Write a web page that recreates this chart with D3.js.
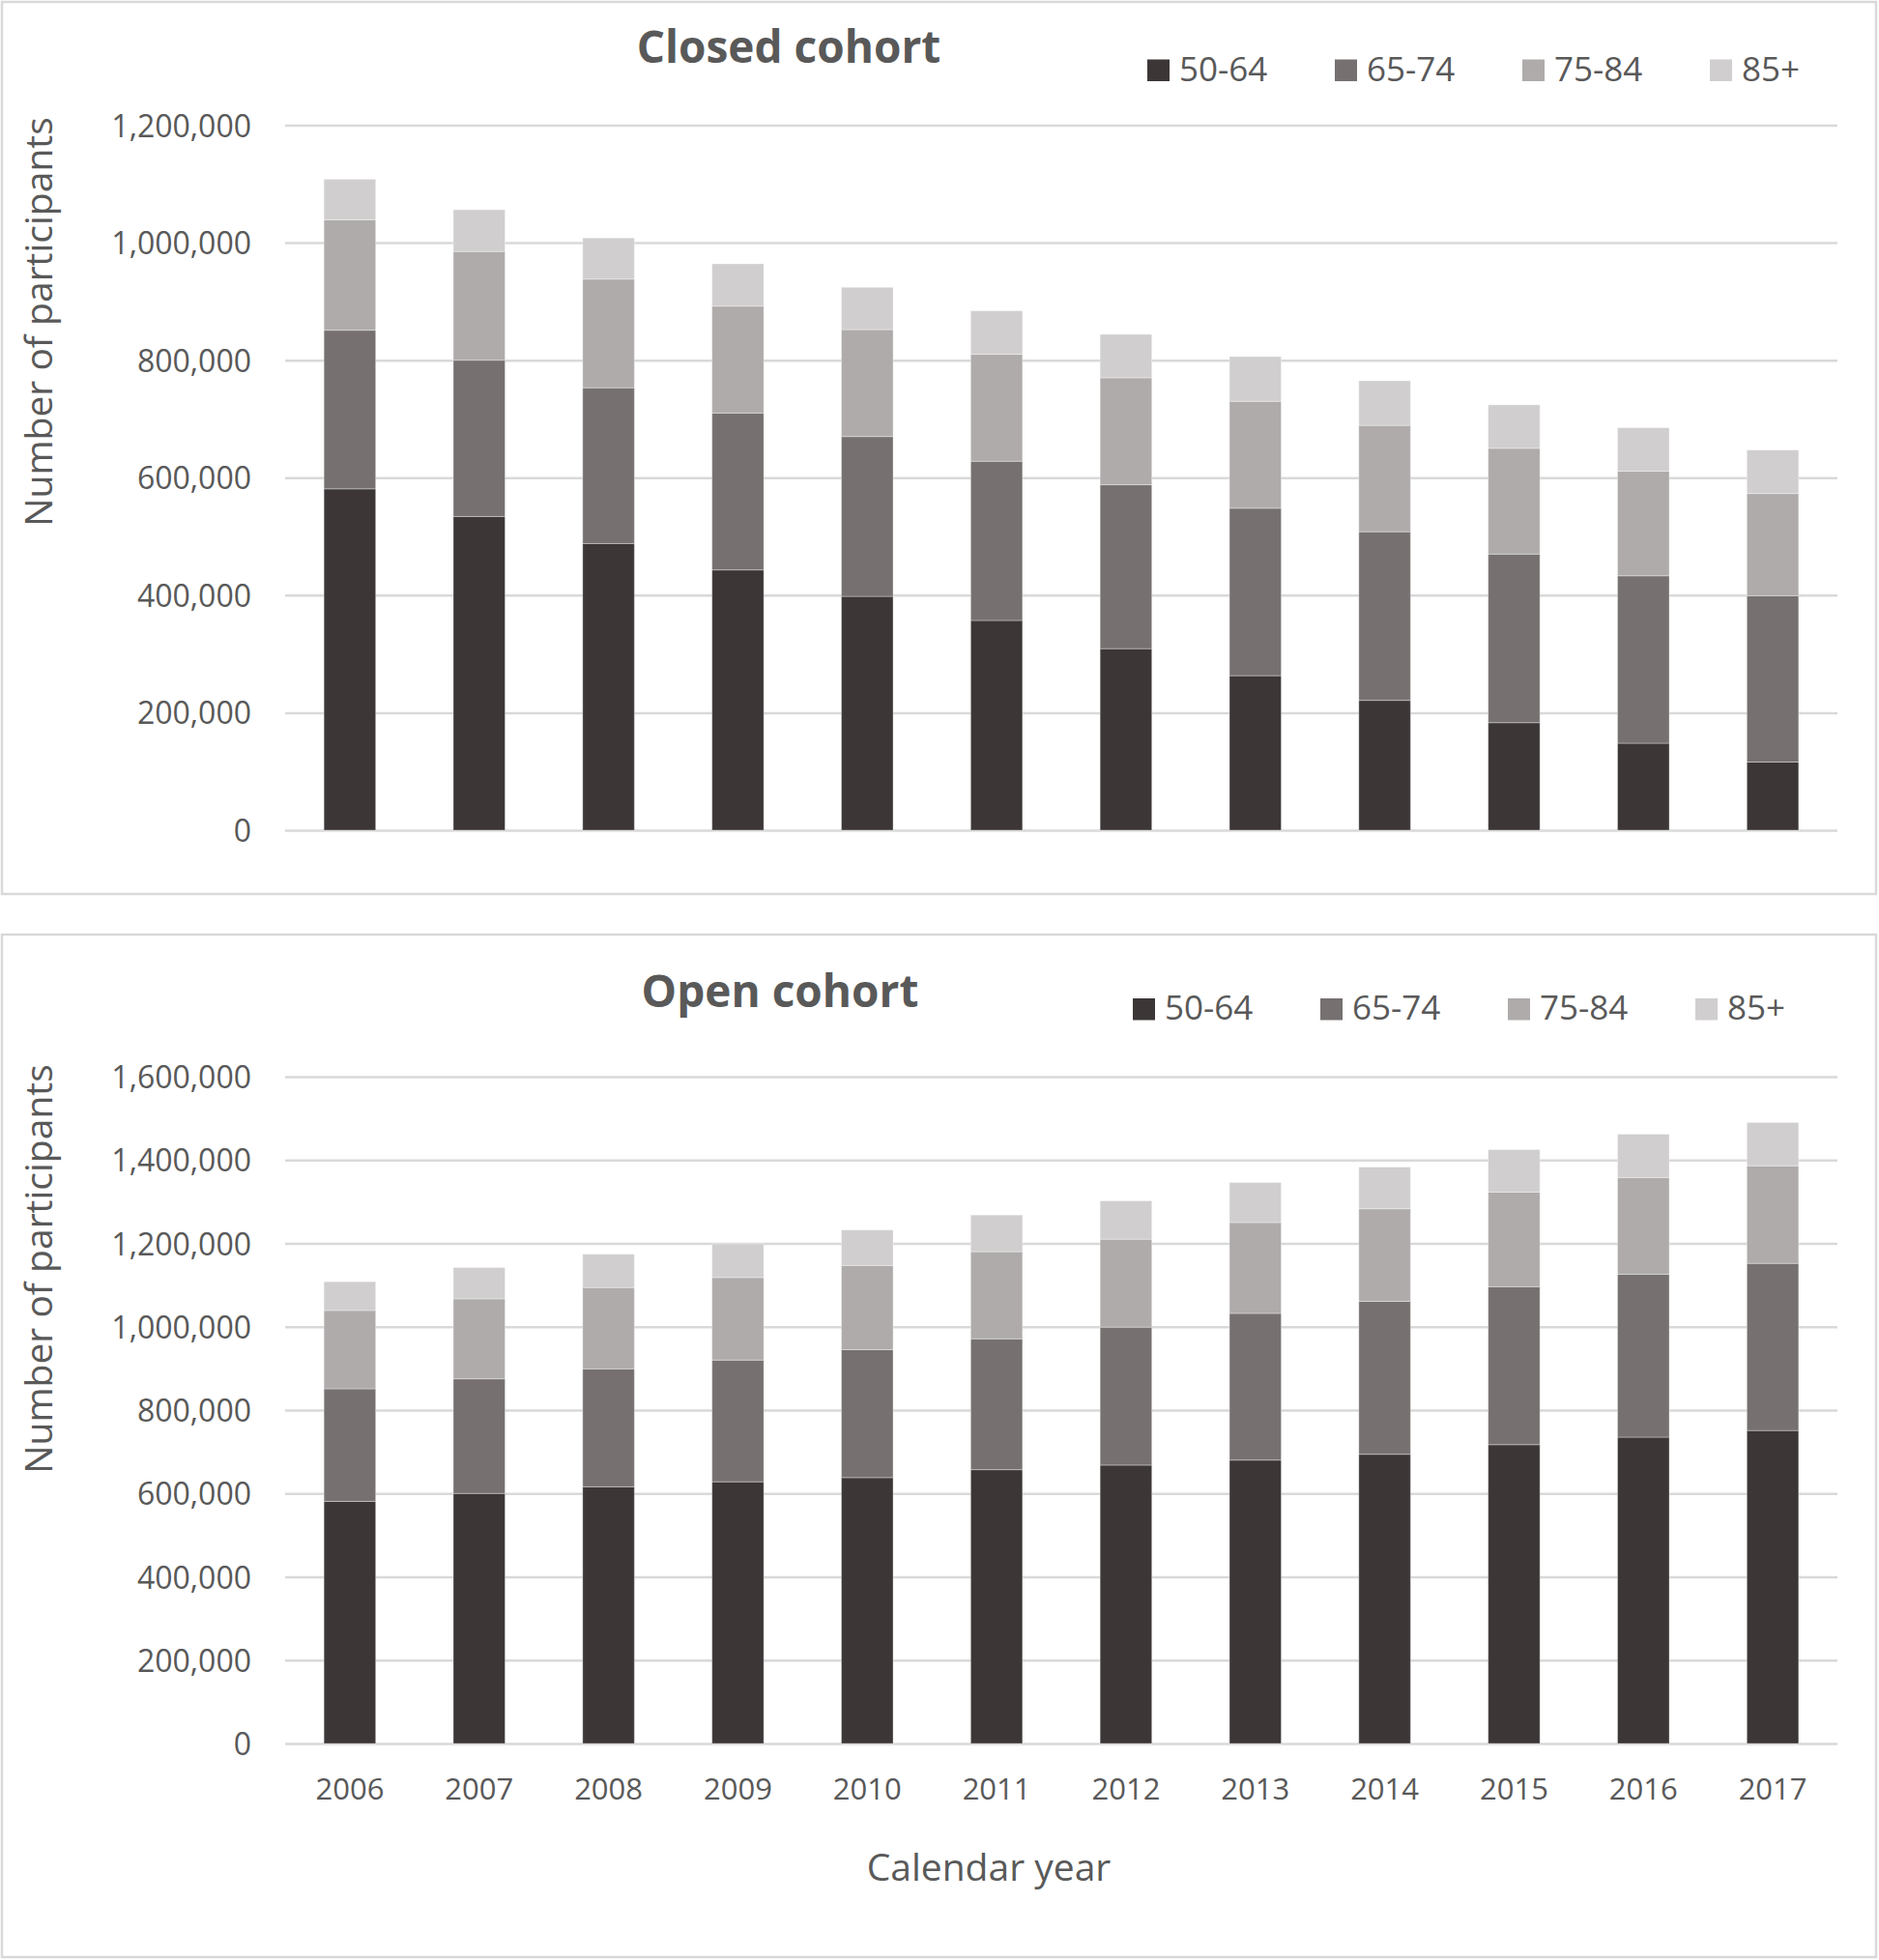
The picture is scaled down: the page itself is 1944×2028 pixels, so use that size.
<!DOCTYPE html>
<html>
<head>
<meta charset="utf-8">
<script src="https://cdn.jsdelivr.net/npm/d3@7"></script>
<style>
  html, body { margin: 0; padding: 0; background: #fff; }
  svg { display: block; }
  text { font-family: "Open Sans", sans-serif; fill: #595959; }
</style>
</head>
<body>
<svg id="chart" width="1944" height="2028"></svg>
<script>
// ---- Data ----
const years = ["2006","2007","2008","2009","2010","2011","2012","2013","2014","2015","2016","2017"];
const ageGroups = ["50-64","65-74","75-84","85+"];

// Closed cohort (number of participants)
const closed_50_64 = [581000, 534000, 488000, 443000, 398000, 357000, 309000, 263000, 221000, 183000, 148000, 116000];
const closed_65_74 = [270000, 266000, 265000, 267000, 272000, 271000, 279000, 285000, 287000, 287000, 285000, 283000];
const closed_75_84 = [188000, 185000, 185000, 182000, 182000, 182000, 182000, 182000, 181000, 180000, 178000, 174000];
const closed_85p   = [ 69000,  71000,  70000,  72000,  72000,  74000,  74000,  76000,  76000,  74000,  74000,  74000];

// Open cohort (number of participants)
const open_50_64 = [581000, 600000, 616000, 628000, 638000, 657000, 668000, 680000, 694000, 717000, 735000, 751000];
const open_65_74 = [270000, 275000, 283000, 292000, 307000, 314000, 331000, 352000, 367000, 379000, 391000, 401000];
const open_75_84 = [188000, 192000, 195000, 198000, 202000, 209000, 211000, 218000, 222000, 227000, 232000, 234000];
const open_85p   = [ 69000,  75000,  80000,  81000,  85000,  88000,  92000,  96000, 100000, 102000, 104000, 104000];

const closedTicks = [0, 200000, 400000, 600000, 800000, 1000000, 1200000];
const openTicks = [0, 200000, 400000, 600000, 800000, 1000000, 1200000, 1400000, 1600000];

const colors = ["#3c3736", "#767170", "#aeabaa", "#d0cecf"];

function buildRows(a, b, c, d) {
  return years.map((y, i) => ({year: y, "50-64": a[i], "65-74": b[i], "75-84": c[i], "85+": d[i]}));
}

const svg = d3.select("#chart");
const fmt = d3.format(",");

const x = d3.scaleBand().domain(years).range([295, 1901]).paddingInner(0.6).paddingOuter(0.3);

function drawPanel(cfg) {
  const g = svg.append("g");
  // panel border
  g.append("rect")
    .attr("x", 2).attr("y", cfg.panelTop)
    .attr("width", 1939).attr("height", cfg.panelBottom - cfg.panelTop)
    .attr("fill", "#fff").attr("stroke", "#d9d9d9").attr("stroke-width", 2.5);

  const y = d3.scaleLinear().domain([0, cfg.max]).range([cfg.y0, cfg.yTop]);

  // gridlines + y tick labels via axis
  const yAxis = d3.axisLeft(y).tickValues(cfg.ticks).tickSize(-(1901 - 295)).tickFormat(d => fmt(d)).tickPadding(35);
  const ag = g.append("g").attr("transform", "translate(295,0)").call(yAxis);
  ag.select(".domain").remove();
  ag.selectAll(".tick line").attr("stroke", "#d9d9d9").attr("stroke-width", 2.5);
  ag.selectAll(".tick text")
    .attr("font-size", 32).attr("fill", "#595959")
    .attr("font-family", "'Open Sans', sans-serif")
    .attr("dy", "0.36em");

  // stacked bars
  const stack = d3.stack().keys(ageGroups);
  const series = stack(cfg.rows);
  g.append("g").selectAll("g")
    .data(series).join("g")
    .attr("fill", (d, i) => colors[i])
    .selectAll("rect")
    .data(d => d).join("rect")
    .attr("x", d => x(d.data.year))
    .attr("width", x.bandwidth())
    .attr("y", d => y(d[1]))
    .attr("height", d => y(d[0]) - y(d[1]))
    .attr("stroke", "#ffffff").attr("stroke-opacity", 0.35).attr("stroke-width", 1);

  // title
  g.append("text")
    .attr("x", cfg.titleX).attr("y", cfg.titleY)
    .attr("text-anchor", "middle")
    .attr("font-size", 46).attr("font-weight", 700)
    .text(cfg.title);

  // legend
  const lg = g.append("g");
  ageGroups.forEach((k, i) => {
    const lx = cfg.legendX + i * 194;
    lg.append("rect")
      .attr("x", lx).attr("y", cfg.legendY - 22)
      .attr("width", 23).attr("height", 22.5)
      .attr("fill", colors[i]);
    lg.append("text")
      .attr("x", lx + 33).attr("y", cfg.legendY)
      .attr("font-size", 35)
      .text(k);
  });

  // y axis title
  g.append("text")
    .attr("transform", `translate(${54},${cfg.yTitleY}) rotate(-90)`)
    .attr("text-anchor", "middle")
    .attr("font-size", 39)
    .text("Number of participants");

  return y;
}

drawPanel({
  panelTop: 2, panelBottom: 925,
  y0: 859, yTop: 129.5, max: 1200000, ticks: closedTicks,
  rows: buildRows(closed_50_64, closed_65_74, closed_75_84, closed_85p),
  title: "Closed cohort", titleX: 816, titleY: 65,
  legendX: 1187, legendY: 83.5,
  yTitleY: 333
});

drawPanel({
  panelTop: 967, panelBottom: 2025,
  y0: 1804, yTop: 1114, max: 1600000, ticks: openTicks,
  rows: buildRows(open_50_64, open_65_74, open_75_84, open_85p),
  title: "Open cohort", titleX: 807, titleY: 1042,
  legendX: 1172, legendY: 1055,
  yTitleY: 1313
});

// x axis labels (bottom panel only)
const xAxis = d3.axisBottom(x).tickSize(0).tickPadding(0);
const xg = svg.append("g").attr("transform", "translate(0,1804)").call(xAxis);
xg.select(".domain").remove();
xg.selectAll(".tick text")
  .attr("font-size", 31).attr("fill", "#595959")
  .attr("font-family", "'Open Sans', sans-serif")
  .attr("dy", null).attr("y", 58);

svg.append("text")
  .attr("x", 1023).attr("y", 1946)
  .attr("text-anchor", "middle")
  .attr("font-size", 39)
  .text("Calendar year");
</script>
</body>
</html>
